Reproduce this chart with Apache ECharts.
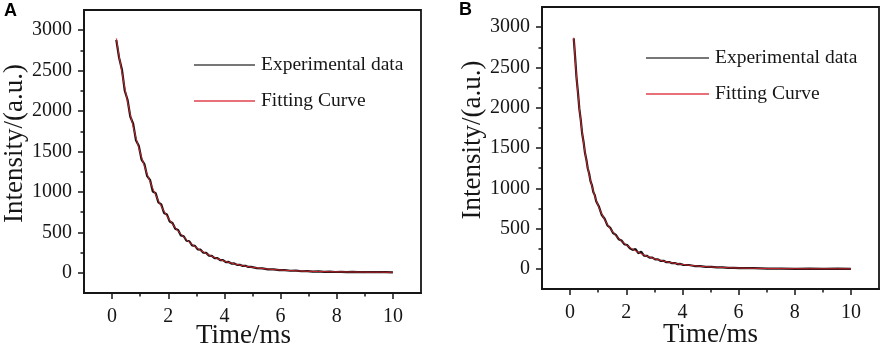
<!DOCTYPE html>
<html>
<head>
<meta charset="utf-8">
<script src="https://cdn.jsdelivr.net/npm/echarts@6/dist/echarts.min.js"></script>
<style>
  html, body { margin: 0; padding: 0; background: #fff; }
  #chart { width: 886px; height: 350px; }
</style>
</head>
<body>
<div id="chart"></div>
<script>
// Panneau A : temps (ms), données expérimentales et courbe ajustée
const timeA = [0.15, 0.25, 0.35, 0.45, 0.55, 0.65, 0.75, 0.85, 0.95, 1.05,
    1.15, 1.25, 1.35, 1.45, 1.55, 1.65, 1.75, 1.85, 1.95, 2.05,
    2.15, 2.25, 2.35, 2.45, 2.55, 2.65, 2.75, 2.85, 2.95, 3.05,
    3.15, 3.25, 3.35, 3.45, 3.55, 3.65, 3.75, 3.85, 3.95, 4.05,
    4.15, 4.25, 4.35, 4.45, 4.55, 4.65, 4.75, 4.85, 4.95, 5.15,
    5.35, 5.55, 5.75, 5.95, 6.15, 6.35, 6.55, 6.75, 6.95, 7.15,
    7.35, 7.55, 7.75, 7.95, 8.15, 8.35, 8.55, 8.75, 8.95, 9.15,
    9.35, 9.55, 9.75, 10.0];
const expA = [2880, 2660, 2515, 2255, 2140, 1930, 1845, 1640, 1570, 1400,
    1345, 1195, 1150, 1005, 985, 870, 845, 740, 722, 635,
    615, 545, 530, 462, 452, 396, 390, 338, 333, 290,
    286, 248, 246, 212, 210, 182, 182, 156, 157, 132,
    134, 114, 116, 98, 99, 85, 86, 72, 73, 58,
    55, 43, 42, 33, 33, 25, 26, 19, 21, 15,
    17, 12, 14, 10, 12, 9, 11, 8, 10, 7,
    9, 7, 8, 6];
const fitA = [2900, 2680, 2478, 2290, 2117, 1956, 1808, 1671, 1545, 1428,
    1320, 1220, 1128, 1043, 964, 891, 824, 762, 705, 652,
    603, 557, 516, 477, 441, 408, 378, 350, 324, 300,
    277, 257, 238, 220, 204, 189, 175, 162, 150, 139,
    129, 119, 111, 103, 95, 88, 82, 76, 70, 61,
    53, 46, 40, 35, 31, 27, 24, 21, 19, 17,
    15, 14, 13, 12, 11, 10, 10, 9, 9, 8,
    8, 8, 7, 7];

// Panneau B
const timeB = [0.13, 0.18, 0.23, 0.28, 0.33, 0.38, 0.43, 0.48, 0.53, 0.58,
    0.63, 0.68, 0.73, 0.78, 0.83, 0.88, 0.93, 1.03, 1.13, 1.23,
    1.33, 1.43, 1.53, 1.63, 1.73, 1.83, 1.93, 2.03, 2.13, 2.23,
    2.33, 2.43, 2.53, 2.63, 2.73, 2.83, 2.93, 3.03, 3.13, 3.23,
    3.33, 3.43, 3.53, 3.63, 3.73, 3.83, 3.93, 4.03, 4.23, 4.43,
    4.63, 4.83, 5.03, 5.23, 5.43, 5.63, 5.83, 6.03, 6.53, 7.03,
    7.53, 8.03, 8.53, 9.03, 9.53, 10.0];
const expB = [2860, 2625, 2370, 2190, 1985, 1850, 1680, 1575, 1440, 1355,
    1245, 1180, 1085, 1035, 950, 915, 840, 770, 668, 622,
    540, 510, 445, 422, 368, 352, 306, 296, 255, 236,
    246, 195, 212, 165, 162, 140, 139, 117, 118, 98,
    100, 83, 85, 70, 72, 59, 61, 50, 48, 35,
    34, 25, 24, 18, 18, 13, 13, 9, 8, 3,
    4, 1, 2, 0, 2, 0];
const fitB = [2870, 2609, 2381, 2176, 1996, 1835, 1693, 1564, 1449, 1346,
    1253, 1169, 1093, 1024, 961, 904, 851, 758, 680, 612,
    552, 500, 454, 414, 377, 345, 316, 289, 265, 243,
    223, 205, 188, 173, 158, 146, 134, 123, 113, 104,
    96, 88, 81, 75, 69, 63, 58, 54, 45, 38,
    32, 27, 23, 20, 17, 14, 12, 10, 7, 4,
    3, 2, 1, 1, 1, 0];

// Graduations
const xTicks = [0, 2, 4, 6, 8, 10];
const xMinorTicks = [1, 3, 5, 7, 9];
const yTicks = [0, 500, 1000, 1500, 2000, 2500, 3000];
const yMinorTicks = [250, 750, 1250, 1750, 2250, 2750];

const seriesNames = ['Experimental data', 'Fitting Curve'];

const SERIF = 'Liberation Serif';
const INK = '#161616';

function pairs(t, v) {
    return t.map(function (x, i) { return [x, v[i]]; });
}
function plain(v) { return String(v); }

function mainX(grid, nameShift, nameGap) {
    return {
        type: 'value', gridIndex: grid, min: -1, max: 11, position: 'bottom',
        name: 'Time/ms', nameLocation: 'middle', nameGap: nameGap, nameMoveOverlap: false,
        nameTextStyle: { fontFamily: SERIF, fontSize: 27, color: INK, padding: [0, nameShift, 0, 0] },
        axisLine: { show: true, onZero: false, lineStyle: { color: INK, width: 1.8 } },
        axisTick: { show: true, inside: false, length: 6, customValues: xTicks, lineStyle: { color: INK, width: 1.5 } },
        axisLabel: { customValues: xTicks, formatter: plain, fontFamily: SERIF, fontSize: 20, color: INK, margin: 14 },
        splitLine: { show: false }
    };
}
function minorX(grid) {
    return {
        type: 'value', gridIndex: grid, min: -1, max: 11, position: 'bottom',
        axisLine: { show: false, onZero: false },
        axisTick: { show: true, inside: false, length: 3.5, customValues: xMinorTicks, lineStyle: { color: INK, width: 1.5 } },
        axisLabel: { show: false },
        splitLine: { show: false }
    };
}
function mainY(grid) {
    return {
        type: 'value', gridIndex: grid, min: -250, max: 3250, position: 'left',
        name: 'Intensity/(a.u.)', nameLocation: 'middle', nameGap: 56, nameMoveOverlap: false,
        nameTextStyle: { fontFamily: SERIF, fontSize: 27, color: INK, padding: [0, 0, 0, 16] },
        axisLine: { show: true, onZero: false, lineStyle: { color: INK, width: 1.8 } },
        axisTick: { show: true, inside: false, length: 6, customValues: yTicks, lineStyle: { color: INK, width: 1.5 } },
        axisLabel: { customValues: yTicks, formatter: plain, fontFamily: SERIF, fontSize: 20, color: INK, margin: 12 },
        splitLine: { show: false }
    };
}
function minorY(grid) {
    return {
        type: 'value', gridIndex: grid, min: -250, max: 3250, position: 'left',
        axisLine: { show: false, onZero: false },
        axisTick: { show: true, inside: false, length: 3.5, customValues: yMinorTicks, lineStyle: { color: INK, width: 1.5 } },
        axisLabel: { show: false },
        splitLine: { show: false }
    };
}
function legendAt(left, top, itemWidth) {
    return {
        orient: 'vertical', left: left, top: top, padding: 0,
        icon: 'rect', itemWidth: itemWidth, itemHeight: 1.5, itemGap: 10,
        data: [
            { name: seriesNames[0], itemStyle: { color: '#4a4a4a' } },
            { name: seriesNames[1], itemStyle: { color: '#e0424c' } }
        ],
        textStyle: { fontFamily: SERIF, fontSize: 19.5, lineHeight: 22, color: INK, padding: [4, 0, 0, 1] }
    };
}
function lineSeries(name, axis, data, color, width, z) {
    return {
        name: name, type: 'line', xAxisIndex: axis, yAxisIndex: axis,
        data: data, symbol: 'none', z: z, animation: false,
        lineStyle: { color: color, width: width }, itemStyle: { color: color }
    };
}

const chart = echarts.init(document.getElementById('chart'), null, { renderer: 'canvas' });

const titleFont = { fontFamily: 'Liberation Sans', fontWeight: 'bold', fontSize: 18, color: '#000' };
const option = {
    backgroundColor: '#fff',
    animation: false,
    title: [
        { text: 'A', left: 4, top: 2, padding: 0, textStyle: titleFont },
        { text: 'B', left: 459, top: 1, padding: 0, textStyle: titleFont }
    ],
    legend: [legendAt(194, 52, 61), legendAt(646, 45, 63)],
    grid: [
        { left: 84, top: 10, width: 337, height: 283, outerBoundsMode: 'none', containLabel: false,
          show: true, borderColor: INK, borderWidth: 1.8, backgroundColor: 'transparent' },
        { left: 542, top: 7, width: 337, height: 282, outerBoundsMode: 'none', containLabel: false,
          show: true, borderColor: INK, borderWidth: 1.8, backgroundColor: 'transparent' }
    ],
    xAxis: [mainX(0, 18, 29), minorX(0), mainX(1, 0, 32), minorX(1)],
    yAxis: [mainY(0), minorY(0), mainY(1), minorY(1)],
    series: [
        lineSeries(seriesNames[0], 0, pairs(timeA, expA), '#141414', 2.2, 2),
        lineSeries(seriesNames[1], 0, pairs(timeA, fitA), '#e2262f', 0.9, 3),
        lineSeries(seriesNames[0], 2, pairs(timeB, expB), '#141414', 2.2, 2),
        lineSeries(seriesNames[1], 2, pairs(timeB, fitB), '#e2262f', 0.9, 3)
    ]
};

chart.setOption(option);
window.addEventListener('resize', chart.resize);
</script>
</body>
</html>
